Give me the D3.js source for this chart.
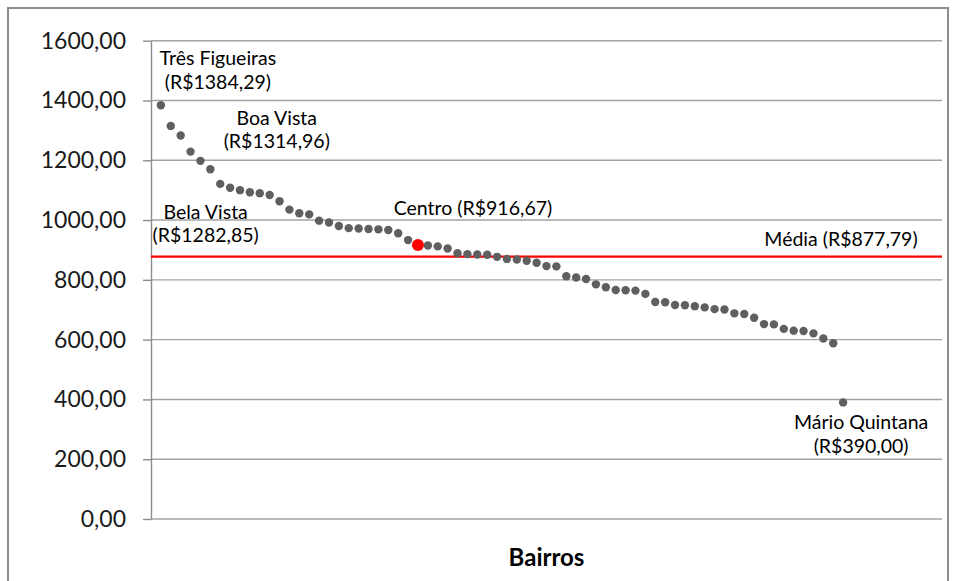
<!DOCTYPE html>
<html>
<head>
<meta charset="utf-8">
<script src="https://cdn.jsdelivr.net/npm/d3@7"></script>
<style>
  html, body { margin: 0; padding: 0; background: #fff; }
  svg { display: block; }
</style>
</head>
<body>
<svg id="chart" width="956" height="581"></svg>
<script>
// Valor médio por bairro (R$), ordenado do maior para o menor
const valores = [
  1384.29, 1314.96, 1282.85, 1229, 1198, 1170, 1121, 1108, 1100, 1093,
  1090, 1084, 1063, 1035, 1023, 1019, 998, 992, 980, 973,
  972, 970, 969, 967, 956, 933, 916.67, 915, 912, 905,
  889, 886, 885, 884, 877, 870, 868, 864, 857, 846,
  845, 812, 808, 803, 785, 775, 766, 765, 764, 753,
  726, 725, 716, 715, 712, 708, 702, 701, 688, 686,
  673, 652, 651, 636, 630, 629, 621, 604, 588, 390
];

// Bairros identificados no gráfico (posição na ordenação, 1 = maior valor)
const destaqueNomes = ["Três Figueiras", "Boa Vista", "Bela Vista", "Centro", "Mário Quintana"];
const destaquePos   = [1, 2, 3, 27, 70];

// Bairro realçado em vermelho
const realce = 27;

// Média geral
const media = 877.79;

// Marcas do eixo Y
const yTicks = [0, 200, 400, 600, 800, 1000, 1200, 1400, 1600];

const tituloX = "Bairros";

// Formato numérico brasileiro (vírgula decimal, sem separador de milhar)
const locale = d3.formatLocale({ decimal: ",", thousands: ".", grouping: [3], currency: ["R$", ""] });
const fmt = locale.format(".2f");
const moeda = v => "(R$" + fmt(v) + ")";

const svg = d3.select("#chart");
const W = 956, H = 581;
const plot = { left: 151, right: 942, top: 40.7, bottom: 519 };

// Moldura da área do gráfico
svg.append("rect")
  .attr("x", 8).attr("y", 8)
  .attr("width", 940).attr("height", 600)
  .attr("fill", "#fff")
  .attr("stroke", "#8c8c8c")
  .attr("stroke-width", 2);

const x = d3.scaleLinear().domain([0, 80]).range([plot.left, plot.right]);
const y = d3.scaleLinear().domain([0, 1600]).range([plot.bottom, plot.top]);

// Linhas de grade horizontais
svg.append("g")
  .selectAll("line")
  .data(yTicks)
  .join("line")
  .attr("x1", plot.left).attr("x2", plot.right)
  .attr("y1", d => y(d)).attr("y2", d => y(d))
  .attr("stroke", "#a3a3a3")
  .attr("stroke-width", 1.4);

// Eixo Y
const yAxis = d3.axisLeft(y)
  .tickValues(yTicks)
  .tickFormat(fmt)
  .tickSize(8)
  .tickSizeOuter(0)
  .tickPadding(17);

const gy = svg.append("g")
  .attr("transform", `translate(${plot.left},0)`)
  .call(yAxis);
gy.select(".domain").attr("stroke", "#8c8c8c").attr("stroke-width", 1.4);
gy.selectAll(".tick line").attr("stroke", "#8c8c8c").attr("stroke-width", 1.4);
gy.selectAll(".tick text")
  .attr("fill", "#1a1a1a")
  .style("font-family", "Lato, 'Open Sans', sans-serif")
  .style("font-size", "23px");

// Linha da média
svg.append("line")
  .attr("x1", plot.left).attr("x2", plot.right)
  .attr("y1", y(media)).attr("y2", y(media))
  .attr("stroke", "#ff0000")
  .attr("stroke-width", 2.2);

// Pontos
const pontos = valores.map((v, i) => ({ pos: i + 1, v }));
svg.append("g")
  .selectAll("circle")
  .data(pontos.filter(d => d.pos !== realce))
  .join("circle")
  .attr("cx", d => x(d.pos))
  .attr("cy", d => y(d.v))
  .attr("r", 4.2)
  .attr("fill", "#5f5f5f");

svg.append("circle")
  .datum(pontos[realce - 1])
  .attr("cx", d => x(d.pos))
  .attr("cy", d => y(d.v))
  .attr("r", 6)
  .attr("fill", "#ff0000");

// Rótulos dos bairros destacados: deslocamento em relação ao ponto
const deslocamentos = {
  "Três Figueiras": { dx: 57, dy: -40, linhas: 2 },
  "Boa Vista":      { dx: 106, dy: -1, linhas: 2 },
  "Bela Vista":     { dx: 25, dy: 83, linhas: 2 },
  "Centro":         { dx: 55, dy: -30, linhas: 1 },
  "Mário Quintana": { dx: 18, dy: 27, linhas: 2 }
};

const fonteRotulo = "Lato, 'Open Sans', sans-serif";
const gRot = svg.append("g")
  .style("font-family", fonteRotulo)
  .style("font-size", "19.5px")
  .attr("fill", "#000")
  .attr("text-anchor", "middle");

destaqueNomes.forEach((nome, k) => {
  const p = destaquePos[k];
  const v = valores[p - 1];
  const o = deslocamentos[nome];
  const cx = x(p) + o.dx;
  const cy = y(v) + o.dy;
  if (o.linhas === 1) {
    gRot.append("text").attr("x", cx).attr("y", cy).text(nome + " " + moeda(v));
  } else {
    gRot.append("text").attr("x", cx).attr("y", cy).text(nome);
    gRot.append("text").attr("x", cx).attr("y", cy + 23.5).text(moeda(v));
  }
});

// Rótulo da média
gRot.append("text")
  .attr("x", 841)
  .attr("y", y(media) - 10.5)
  .text("Média " + moeda(media));

// Título do eixo X
svg.append("text")
  .attr("x", (plot.left + plot.right) / 2)
  .attr("y", 566)
  .attr("text-anchor", "middle")
  .style("font-family", fonteRotulo)
  .style("font-weight", "bold")
  .style("font-size", "24px")
  .attr("fill", "#000")
  .text(tituloX);
</script>
</body>
</html>
